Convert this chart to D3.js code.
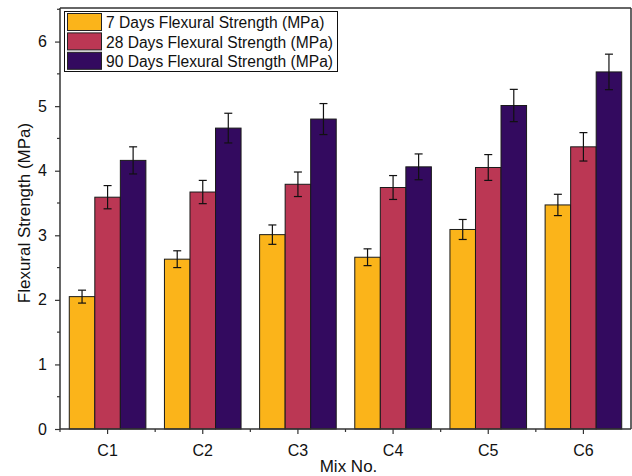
<!DOCTYPE html>
<html><head><meta charset="utf-8">
<script src="https://cdn.jsdelivr.net/npm/d3@7"></script>
<style>body{margin:0;background:#fff}svg{display:block;font-family:"Liberation Sans",Arial,sans-serif}</style>
</head><body><svg id="c" width="632" height="476"></svg>
<script>
const categories = ["C1","C2","C3","C4","C5","C6"];
const seriesNames = ["7 Days Flexural Strength (MPa)","28 Days Flexural Strength (MPa)","90 Days Flexural Strength (MPa)"];
const day7 = [2.05, 2.63, 3.01, 2.66, 3.09, 3.47];
const day28 = [3.59, 3.67, 3.79, 3.74, 4.05, 4.37];
const day90 = [4.16, 4.66, 4.80, 4.06, 5.01, 5.53];
const err7 = [0.10, 0.13, 0.15, 0.13, 0.155, 0.165];
const err28 = [0.18, 0.18, 0.19, 0.185, 0.20, 0.22];
const err90 = [0.21, 0.23, 0.24, 0.20, 0.25, 0.275];
const yTicks = [0,1,2,3,4,5,6];
const colors = ["#FBB41A","#BB3754","#330A5F"];

const values = [day7, day28, day90];
const errs = [err7, err28, err90];
const svg = d3.select("#c");
const FF = "Liberation Sans, Arial, sans-serif";
const L = 60, R = 631, T = 8, B = 429;
const x = d3.scaleBand().domain(categories).range([L, R]).paddingInner(0).paddingOuter(0);
const y = d3.scaleLinear().domain([0, 6.52]).range([B, T]);
const groupW = x.bandwidth() * 0.805;
const xs = d3.scaleBand().domain(d3.range(3)).range([0, groupW]);

// bars
values.forEach((vals, s) => {
  svg.append("g").selectAll("rect").data(vals).enter().append("rect")
    .attr("x", (d,i) => x(categories[i]) + (x.bandwidth()-groupW)/2 + xs(s))
    .attr("y", d => y(d))
    .attr("width", xs.bandwidth())
    .attr("height", d => B - y(d))
    .attr("fill", colors[s])
    .attr("stroke", "#1a1a1a").attr("stroke-width", 1);
});
// error bars
values.forEach((vals, s) => {
  const g = svg.append("g").attr("stroke", "#111").attr("stroke-width", 1.2);
  vals.forEach((v, i) => {
    const cx = x(categories[i]) + (x.bandwidth()-groupW)/2 + xs(s) + xs.bandwidth()/2;
    const e = errs[s][i];
    g.append("line").attr("x1", cx).attr("x2", cx).attr("y1", y(v+e)).attr("y2", y(v-e));
    g.append("line").attr("x1", cx-4).attr("x2", cx+4).attr("y1", y(v+e)).attr("y2", y(v+e));
    g.append("line").attr("x1", cx-4).attr("x2", cx+4).attr("y1", y(v-e)).attr("y2", y(v-e));
  });
});

// frame top/right
svg.append("line").attr("x1", L).attr("x2", R).attr("y1", T).attr("y2", T).attr("stroke", "#333").attr("stroke-width", 1.5);
svg.append("line").attr("x1", R).attr("x2", R).attr("y1", T).attr("y2", B).attr("stroke", "#333").attr("stroke-width", 1.5);

// y axis
const yAxis = svg.append("g").attr("transform", `translate(${L},0)`)
  .call(d3.axisLeft(y).tickValues(yTicks).tickSize(5).tickPadding(8).tickFormat(d3.format("d")));
yAxis.attr("font-family", FF).attr("font-size", 16);
yAxis.select(".domain").attr("stroke", "#333").attr("stroke-width", 1.5).attr("d", `M0,${T}V${B}`);
yAxis.selectAll(".tick line").attr("stroke", "#333").attr("stroke-width", 1.2);
yAxis.selectAll(".tick text").attr("fill", "#111");
// y minor ticks
svg.append("g").selectAll("line").data(yTicks.map(d => d + 0.5)).enter().append("line")
  .attr("x1", L-3).attr("x2", L).attr("y1", d => y(d)).attr("y2", d => y(d))
  .attr("stroke", "#333").attr("stroke-width", 1.2);

// x axis
const xAxis = svg.append("g").attr("transform", `translate(0,${B})`)
  .call(d3.axisBottom(x).tickSize(5).tickPadding(11));
xAxis.attr("font-family", FF).attr("font-size", 16);
xAxis.select(".domain").attr("stroke", "#333").attr("stroke-width", 1.5).attr("d", `M${L},0H${R}`);
xAxis.selectAll(".tick line").attr("stroke", "#333").attr("stroke-width", 1.2);
xAxis.selectAll(".tick text").attr("fill", "#111");
// x minor ticks between categories
svg.append("g").selectAll("line").data(categories.slice(0, -1)).enter().append("line")
  .attr("x1", d => x(d) + x.bandwidth()).attr("x2", d => x(d) + x.bandwidth())
  .attr("y1", B).attr("y2", B+3).attr("stroke", "#333").attr("stroke-width", 1.2);
svg.append("line").attr("x1", L).attr("x2", L).attr("y1", B).attr("y2", B+3).attr("stroke", "#333").attr("stroke-width", 1.2);

// axis titles
svg.append("text").attr("transform", "translate(29.5,213) rotate(-90)").attr("text-anchor", "middle")
  .attr("font-family", FF).attr("font-size", 17).attr("fill", "#111").text("Flexural Strength (MPa)");
svg.append("text").attr("x", 348.5).attr("y", 471.5).attr("text-anchor", "middle")
  .attr("font-family", FF).attr("font-size", 17).attr("fill", "#111").text("Mix No.");

// legend
const lg = svg.append("g");
lg.append("rect").attr("x", 64.5).attr("y", 11.5).attr("width", 273).attr("height", 60)
  .attr("fill", "#fff").attr("stroke", "#111").attr("stroke-width", 1);
seriesNames.forEach((n, s) => {
  const yy = 13.5 + s * 19.4;
  lg.append("rect").attr("x", 67.5).attr("y", yy).attr("width", 34).attr("height", 17)
    .attr("fill", colors[s]).attr("stroke", "#222").attr("stroke-width", 1);
  lg.append("text").attr("x", 106).attr("y", yy + 14.8).attr("font-family", FF)
    .attr("font-size", 15.6).attr("fill", "#111").text(n);
});
</script></body></html>
